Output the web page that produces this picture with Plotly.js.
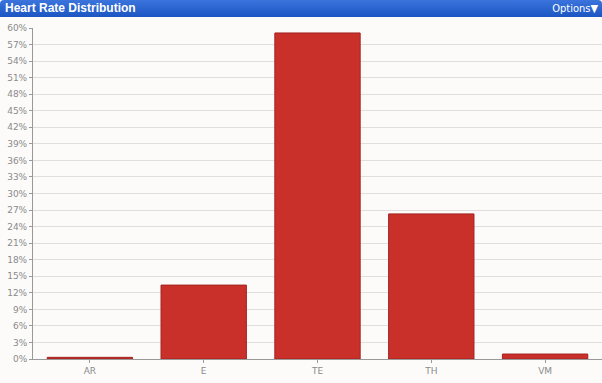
<!DOCTYPE html>
<html><head><meta charset="utf-8">
<script src="https://cdn.plot.ly/plotly-3.0.1.min.js"></script>
<style>
html,body{margin:0;padding:0;background:#fcfbfa;width:602px;height:383px;overflow:hidden;}
#hdr{position:absolute;left:0;top:0;width:602px;height:17px;background:linear-gradient(#3b74dc,#1a55c2);border-radius:4px 4px 0 0;z-index:10;}
#ttl{position:absolute;left:5px;top:1px;color:#fff;font:bold 12px "Liberation Sans",Arial,sans-serif;}
#opt{position:absolute;right:4px;top:2px;color:#fff;font:11px "DejaVu Sans Condensed","Liberation Sans",sans-serif;}
#chart{position:absolute;left:0;top:0;width:602px;height:383px;}
</style></head><body>
<div id="chart"></div>
<div id="hdr"><span id="ttl">Heart Rate Distribution</span><span id="opt">Options&#9660;</span></div>
<script>
var categories = ["AR", "E", "TE", "TH", "VM"];
var values = [0.3, 13.4, 59.1, 26.3, 0.9];
var tickVals = [0,3,6,9,12,15,18,21,24,27,30,33,36,39,42,45,48,51,54,57,60];
var tickText = tickVals.map(function(v){return v + "%";});

Plotly.newPlot("chart", [{
  type: "bar",
  x: categories,
  y: values,
  marker: {color: "#c9302a", line: {color: "#a3231f", width: 1}},
  hoverinfo: "none"
}], {
  width: 602, height: 383,
  margin: {l: 33, r: 0, t: 28, b: 24, pad: 0},
  paper_bgcolor: "#fcfbfa",
  plot_bgcolor: "#fcfbfa",
  bargap: 0.25,
  showlegend: false,
  font: {family: "DejaVu Sans, sans-serif", size: 9, color: "#8a8a8a"},
  xaxis: {
    showgrid: false, showline: true, linecolor: "#999", linewidth: 1,
    ticks: "outside", ticklen: 3, tickcolor: "#999",
    tickfont: {size: 9, color: "#8a8a8a"}, fixedrange: true
  },
  yaxis: {
    range: [0, 60], tickvals: tickVals, ticktext: tickText,
    showgrid: true, gridcolor: "#e0dfdd", gridwidth: 1,
    showline: true, linecolor: "#999", linewidth: 1,
    ticks: "outside", ticklen: 3, tickcolor: "#999",
    tickfont: {size: 9, color: "#8a8a8a"}, zeroline: false, fixedrange: true
  }
}, {displayModeBar: false, staticPlot: true});
</script>
</body></html>
